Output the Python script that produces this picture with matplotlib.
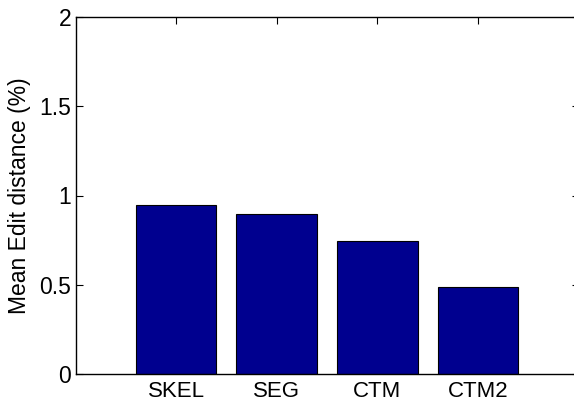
import matplotlib
matplotlib.use("Agg")
import matplotlib.pyplot as plt

categories = ["SKEL", "SEG", "CTM", "CTM2"]
values = [0.947, 0.895, 0.744, 0.487]
yticks = [0, 0.5, 1, 1.5, 2]
ytick_labels = ["0", "0.5", "1", "1.5", "2"]

plt.rcParams['font.family'] = ['Liberation Sans', 'DejaVu Sans']

fig = plt.figure(figsize=(5.74, 4.05), dpi=100)
ax = fig.add_axes([75.5/574, 1 - 374.3/405, 503/574, (374.3 - 16.7)/405])

x = list(range(1, len(categories) + 1))
ax.bar(x, values, width=0.8, color="#00008F", edgecolor="black", linewidth=0.8, zorder=2)

ax.set_xlim(0, 5)
ax.set_ylim(0, 2)
ax.set_xticks(x)
ax.set_xticklabels(categories, fontsize=16)
ax.set_yticks(yticks)
ax.set_yticklabels(ytick_labels, fontsize=16.5)
ax.set_ylabel("Mean Edit distance (%)", fontsize=16.5, labelpad=6)

ax.tick_params(direction="in", length=5, width=0.8, top=True, right=True, pad=3)
ax.tick_params(axis="x", pad=5)
for s in ax.spines.values():
    s.set_linewidth(1.0)
    s.set_color("black")

fig.savefig("out.png", dpi=100)
